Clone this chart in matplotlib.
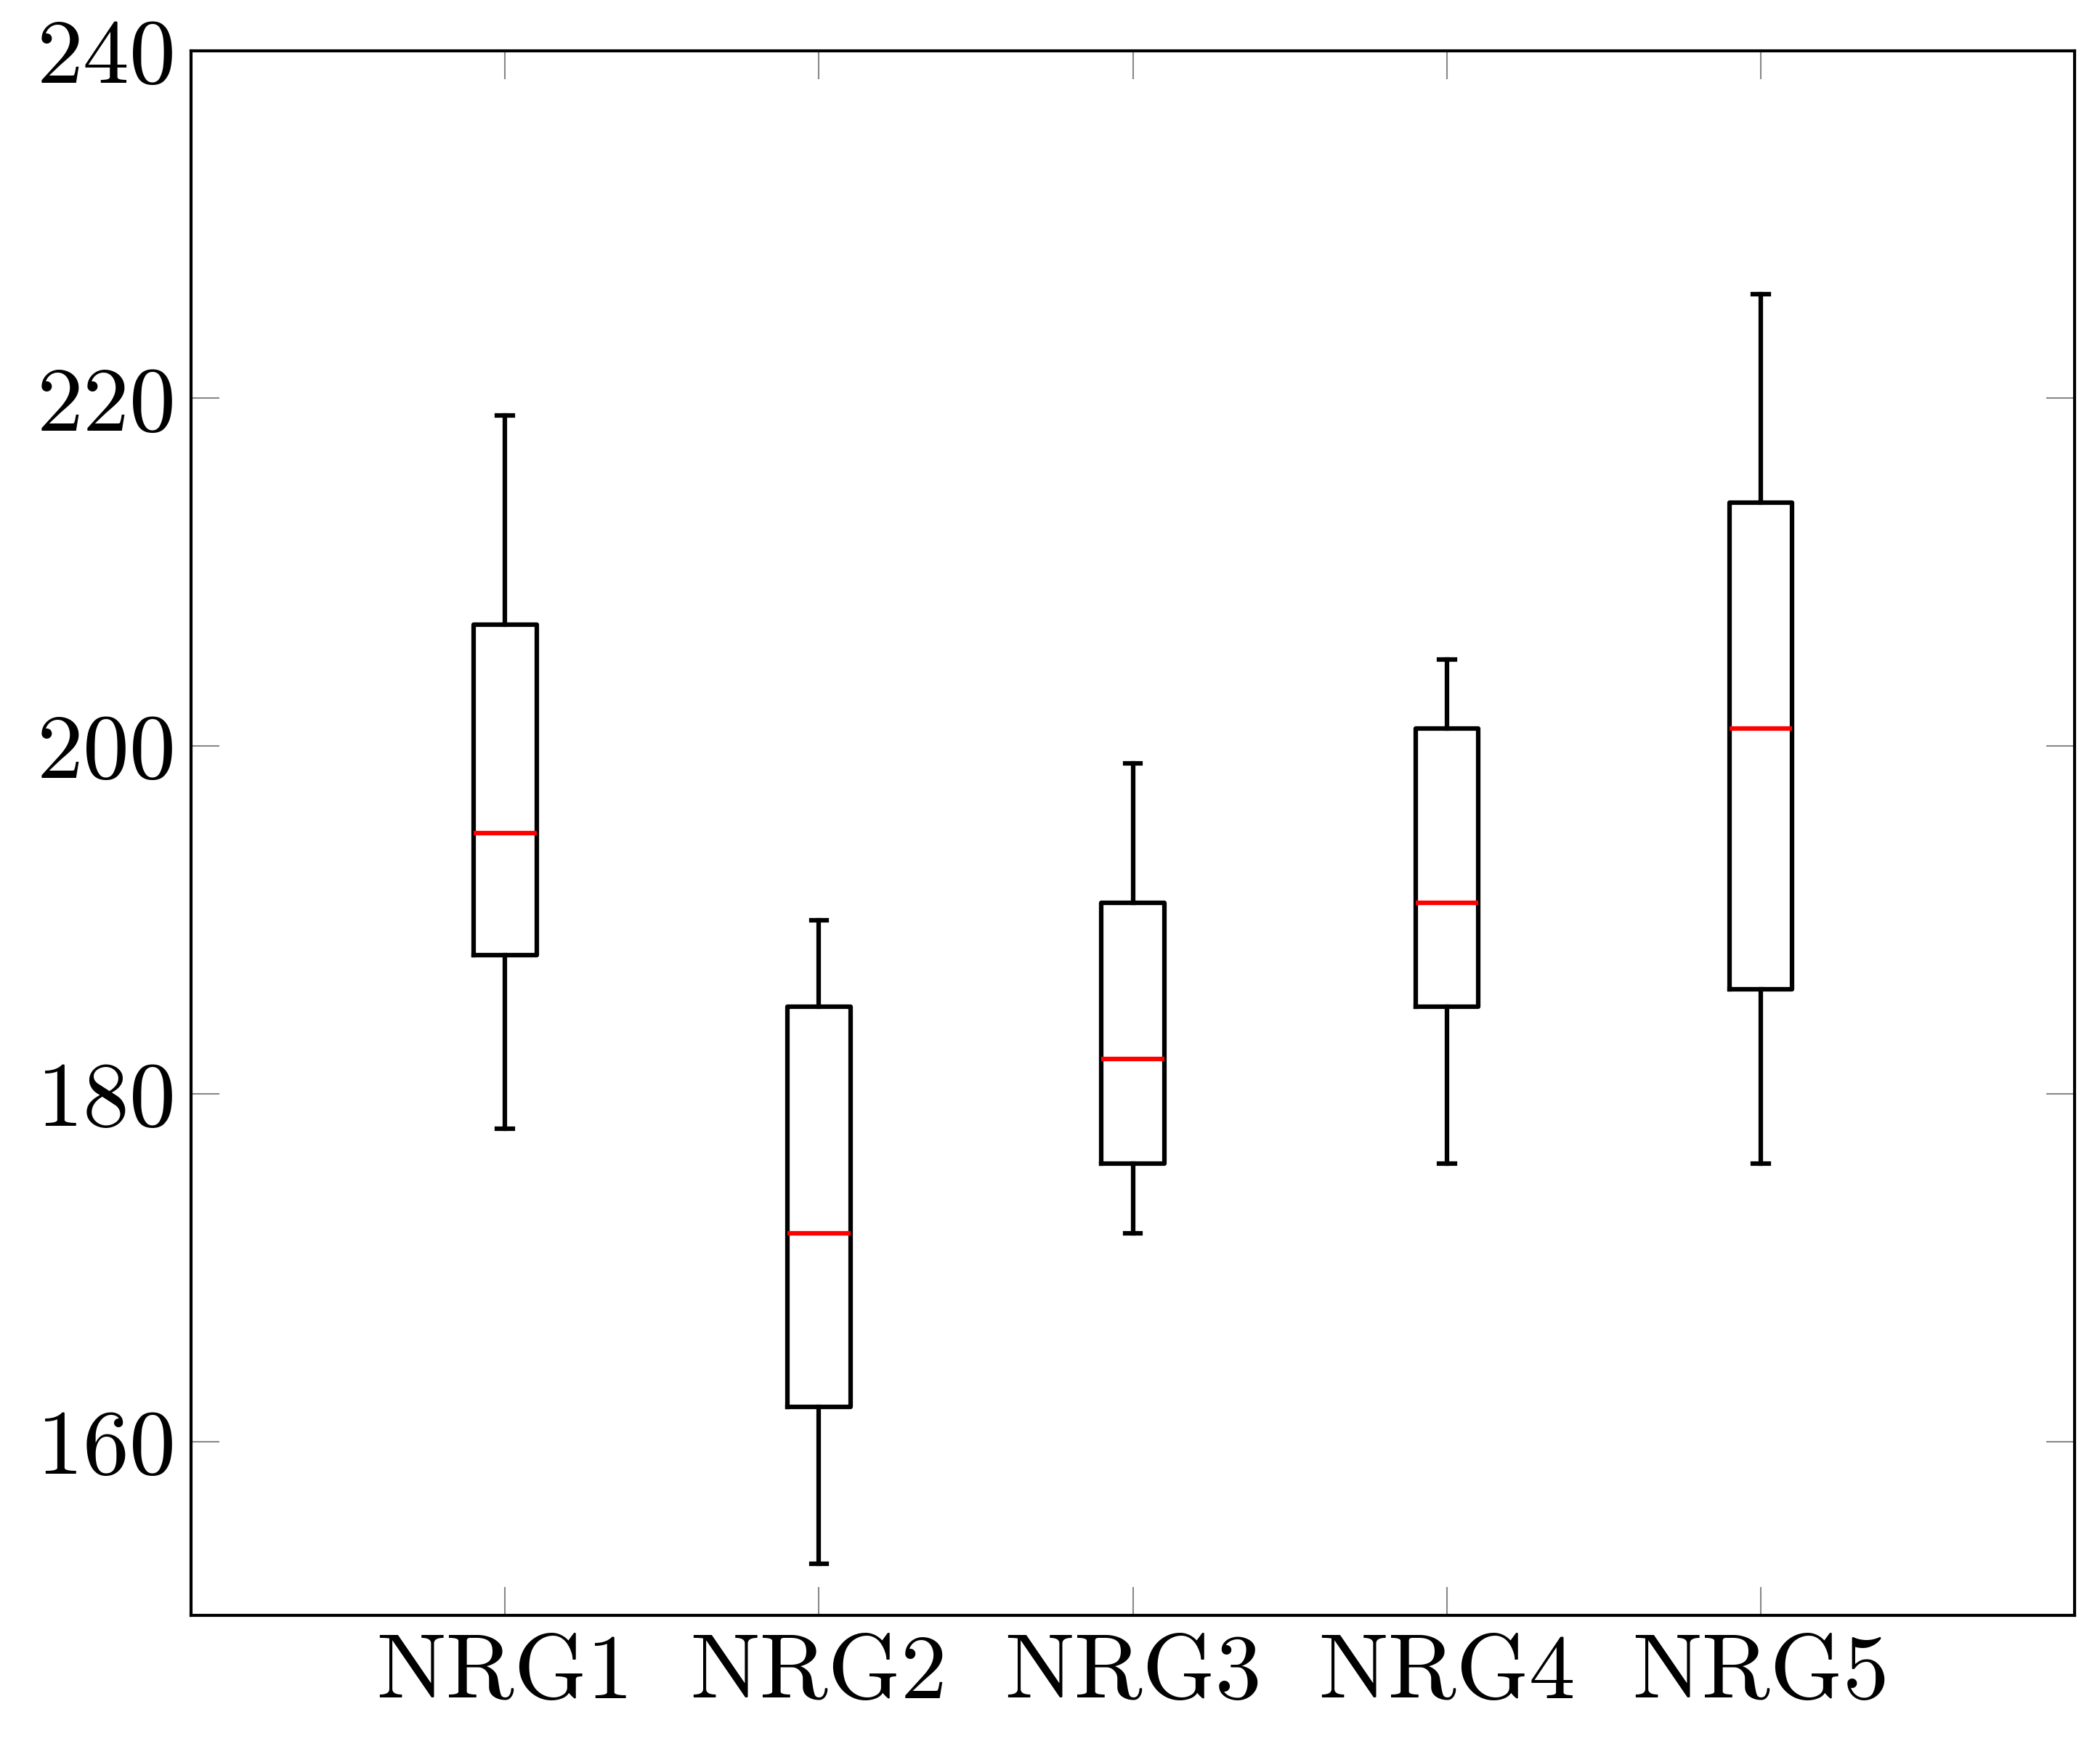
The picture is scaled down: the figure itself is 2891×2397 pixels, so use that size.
import matplotlib
matplotlib.use("Agg")
import matplotlib.pyplot as plt

plt.rcParams['font.family'] = 'serif'
plt.rcParams['font.serif'] = ['cmr10', 'DejaVu Serif']
plt.rcParams['axes.formatter.use_mathtext'] = True

labels = ["NRG1", "NRG2", "NRG3", "NRG4", "NRG5"]
whislo = [178, 153, 172, 176, 176]
q1 = [188, 162, 176, 185, 186]
med = [195, 172, 182, 191, 201]
q3 = [207, 185, 191, 201, 214]
whishi = [219, 190, 199, 205, 226]

stats = []
for i in range(len(labels)):
    stats.append(dict(label=labels[i], whislo=whislo[i], q1=q1[i], med=med[i],
                      q3=q3[i], whishi=whishi[i], fliers=[]))

fig = plt.figure(figsize=(28.91, 23.97), dpi=100)
ax = fig.add_axes([0.091, 0.072, 0.897, 0.899])
lw = 4.5
ax.bxp(stats, positions=range(1, 6), widths=0.2, showfliers=False,
       boxprops=dict(color='black', linewidth=lw),
       whiskerprops=dict(color='black', linewidth=lw),
       capprops=dict(color='black', linewidth=lw),
       medianprops=dict(color='red', linewidth=lw),
       capwidths=0.05)

ax.set_xlim(0, 6)
ax.set_ylim(150, 240)
ax.set_yticks([160, 180, 200, 220, 240])
ax.set_xticks(range(1, 6))
ax.set_xticklabels(labels)
ax.tick_params(direction='in', top=True, right=True, length=28, width=1.5,
               color='#888888', labelsize=92, pad=18)
for s in ax.spines.values():
    s.set_linewidth(3)

fig.savefig("out.png", dpi=100)
